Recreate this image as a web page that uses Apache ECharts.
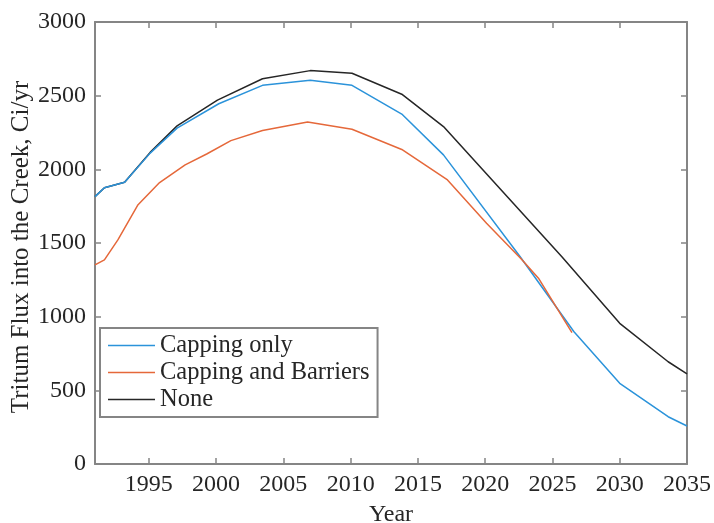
<!DOCTYPE html>
<html>
<head>
<meta charset="utf-8">
<script src="https://cdn.jsdelivr.net/npm/echarts@6/dist/echarts.min.js"></script>
<style>
  html, body { margin: 0; padding: 0; background: #fff; }
  #chart { width: 714px; height: 523px; }
</style>
</head>
<body>
<div id="chart"></div>
<script>
// Tritium flux into the creek for three remediation scenarios (Ci/yr)
const yearTicks = [1995, 2000, 2005, 2010, 2015, 2020, 2025, 2030, 2035];
const fluxTicks = [0, 500, 1000, 1500, 2000, 2500, 3000];

const cappingYears = [1991.0, 1991.7, 1993.2, 1995.1, 1997.1, 2000.2, 2003.45, 2007.0, 2010.1, 2013.8, 2016.9, 2022.6, 2026.6, 2030.0, 2033.6, 2035.0];
const cappingFlux  = [1815, 1875, 1912, 2110, 2280, 2445, 2570, 2605, 2570, 2375, 2098, 1407, 898, 548, 321, 258];

const barrierYears = [1991.0, 1991.7, 1992.7, 1994.2, 1995.8, 1997.7, 1999.3, 2001.1, 2003.45, 2006.8, 2010.1, 2013.8, 2017.2, 2020.1, 2022.7, 2023.96, 2026.45];
const barrierFlux  = [1351, 1385, 1521, 1760, 1910, 2030, 2104, 2195, 2263, 2322, 2272, 2135, 1928, 1634, 1390, 1261, 891];

const noneYears = [1991.0, 1991.7, 1993.2, 1995.1, 1997.1, 2000.1, 2003.45, 2007.0, 2010.1, 2013.8, 2016.9, 2025.7, 2030.0, 2033.6, 2035.0];
const noneFlux  = [1815, 1875, 1912, 2115, 2295, 2470, 2615, 2670, 2652, 2510, 2290, 1407, 955, 694, 611];

const pairs = (xs, ys) => xs.map((x, i) => [x, ys[i]]);

const FONT = 'Liberation Serif';
const FONT_SIZE = 24;
const AXIS_GRAY = '#858585';
const TEXT = '#262626';
const BLUE = '#2b93da';
const ORANGE = '#e5683a';
const BLACK = '#262626';

const chart = echarts.init(document.getElementById('chart'), null, { renderer: 'canvas' });

const tickStyle = { color: AXIS_GRAY, width: 1.5 };
const frameAxis = (extra) => Object.assign({
  type: 'value',
  axisLine: { show: true, onZero: false, lineStyle: { color: AXIS_GRAY, width: 2 } },
  axisTick: { show: true, inside: true, length: 6, lineStyle: tickStyle },
  splitLine: { show: false },
  axisLabel: { show: false }
}, extra);

chart.setOption({
  animation: false,
  backgroundColor: '#ffffff',
  grid: { left: 95, right: 27, top: 22, bottom: 59, containLabel: false, outerBoundsMode: 'none' },
  xAxis: [
    frameAxis({
      position: 'bottom', min: 1991, max: 2035,
      name: 'Year', nameLocation: 'middle', nameGap: 39, nameMoveOverlap: false,
      nameTextStyle: { fontFamily: FONT, fontSize: FONT_SIZE, color: TEXT },
      axisTick: { show: true, inside: true, length: 6, customValues: yearTicks, lineStyle: tickStyle },
      axisLabel: { show: true, customValues: yearTicks, fontFamily: FONT, fontSize: FONT_SIZE, color: TEXT, margin: 9,
                   formatter: (v) => String(v) }
    }),
    frameAxis({
      position: 'top', min: 1991, max: 2035,
      axisTick: { show: true, inside: true, length: 6, customValues: yearTicks, lineStyle: tickStyle }
    })
  ],
  yAxis: [
    frameAxis({
      position: 'left', min: 0, max: 3000,
      name: 'Tritum Flux into the Creek, Ci/yr', nameLocation: 'middle', nameGap: 61, nameMoveOverlap: false,
      nameTextStyle: { fontFamily: FONT, fontSize: 25, color: TEXT, padding: [0, 8, 0, 0] },
      axisTick: { show: true, inside: true, length: 6, customValues: fluxTicks, lineStyle: tickStyle },
      axisLabel: { show: true, customValues: fluxTicks, fontFamily: FONT, fontSize: FONT_SIZE, color: TEXT, margin: 9,
                   formatter: (v) => String(v) }
    }),
    frameAxis({
      position: 'right', min: 0, max: 3000,
      axisTick: { show: true, inside: true, length: 6, customValues: fluxTicks, lineStyle: tickStyle }
    })
  ],
  legend: {
    orient: 'vertical',
    left: 100, top: 328,
    padding: [4, 8, 4, 8],
    itemWidth: 47, itemHeight: 1.5, itemGap: 0,
    borderColor: AXIS_GRAY, borderWidth: 2,
    backgroundColor: '#ffffff',
    textStyle: { fontFamily: FONT, fontSize: 24.5, color: TEXT, lineHeight: 27 },
    data: [
      { name: 'Capping only', icon: 'rect' },
      { name: 'Capping and Barriers', icon: 'rect' },
      { name: 'None', icon: 'rect' }
    ]
  },
  series: [
    { name: 'Capping only', type: 'line', symbol: 'none', data: pairs(cappingYears, cappingFlux),
      lineStyle: { color: BLUE, width: 1.5 }, itemStyle: { color: BLUE }, z: 3 },
    { name: 'Capping and Barriers', type: 'line', symbol: 'none', data: pairs(barrierYears, barrierFlux),
      lineStyle: { color: ORANGE, width: 1.5 }, itemStyle: { color: ORANGE }, z: 4 },
    { name: 'None', type: 'line', symbol: 'none', data: pairs(noneYears, noneFlux),
      lineStyle: { color: BLACK, width: 1.5 }, itemStyle: { color: BLACK }, z: 2 }
  ]
});
</script>
</body>
</html>
